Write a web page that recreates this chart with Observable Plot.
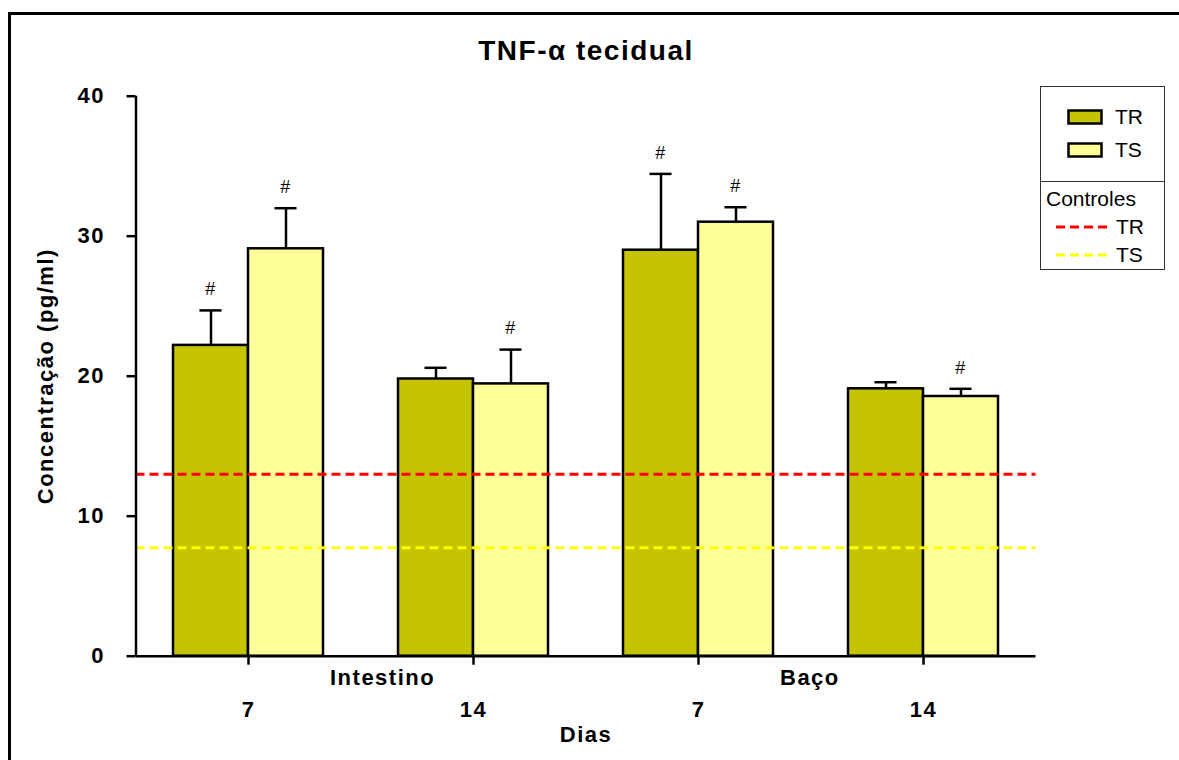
<!DOCTYPE html>
<html>
<head>
<meta charset="utf-8">
<script src="https://cdn.jsdelivr.net/npm/d3@7"></script>
<script src="https://cdn.jsdelivr.net/npm/@observablehq/plot@0.6"></script>
<style>
  body { margin: 0; width: 1179px; height: 760px; overflow: hidden; background: #fff;
         font-family: "Liberation Sans", Arial, sans-serif; position: relative; }
  #frame { position: absolute; left: 8px; top: 12px; width: 1300px; height: 900px;
           border: 3px solid #000; box-sizing: border-box; }
  #chart { position: absolute; left: 0; top: 0; }
  #legend { position: absolute; left: 1040px; top: 86px; width: 125px; height: 184px;
            border: 1.5px solid #333; box-sizing: border-box; font-size: 21px; color: #000; }
  #legend .row { position: absolute; display: flex; align-items: center; height: 26px; }
  #legend .sep { position: absolute; left: 0; right: 0; top: 94px; border-top: 1.5px solid #333; }
</style>
</head>
<body>
<div id="frame"></div>
<div id="chart"></div>
<div id="legend"></div>
<script>
// Tissue groups and days after infection
const tissues = ["Intestino", "Intestino", "Baço", "Baço"];
const days = ["7", "14", "7", "14"];

// Mean tissue TNF-α (pg/ml) and upper error (SEM) per group
const trMean = [22.2, 19.8, 29.0, 19.1];
const trErr  = [2.5, 0.8, 5.45, 0.47];
const tsMean = [29.1, 19.45, 31.0, 18.55];
const tsErr  = [2.9, 2.45, 1.07, 0.55];

// Significance marks (#) per bar
const trSig = [true, false, true, false];
const tsSig = [true, true, true, true];

// Control levels (dashed lines)
const controlLabels = ["TR", "TS"];
const controlValues = [13.0, 7.75];

const seriesNames = ["TR", "TS"];
const fills = {TR: "#c4c400", TS: "#ffff99"};
const controlColors = {TR: "#ff0000", TS: "#ffff00"};

const bars = [];
tissues.forEach((t, g) => {
  bars.push({g, series: "TR", mean: trMean[g], err: trErr[g], sig: trSig[g]});
  bars.push({g, series: "TS", mean: tsMean[g], err: tsErr[g], sig: tsSig[g]});
});
const controls = controlLabels.map((s, i) => ({series: s, value: controlValues[i]}));

const barW = 1 / 3;                    // bar width in group units
const barX1 = d => d.series === "TR" ? d.g - barW : d.g;
const barX2 = d => d.series === "TR" ? d.g : d.g + barW;
const barXc = d => (barX1(d) + barX2(d)) / 2;
const errTop = d => d.mean + d.err;
const capHalf = 0.049;

const groupLabels = [0, 2].map(g => ({g, name: tissues[g]}));

const chart = Plot.plot({
  width: 1179,
  height: 760,
  marginLeft: 135.5,
  marginRight: 143.5,
  marginTop: 95.7,
  marginBottom: 104.3,
  style: {fontFamily: '"Liberation Sans", Arial, sans-serif', fontSize: "22px",
          fontWeight: "bold", color: "#000", background: "transparent",
          overflow: "visible", letterSpacing: "1.5px"},
  x: {domain: [-0.5, 3.5], axis: null},
  y: {domain: [0, 40], axis: null},
  marks: [
    Plot.rectY(bars, {x1: barX1, x2: barX2, y1: 0, y2: "mean", fill: d => fills[d.series],
                      stroke: "#000", strokeWidth: 2.5}),
    Plot.ruleX(bars, {x: barXc, y1: "mean", y2: errTop, stroke: "#000", strokeWidth: 2.5}),
    Plot.ruleY(bars, {x1: d => barXc(d) - capHalf, x2: d => barXc(d) + capHalf, y: errTop,
                      stroke: "#000", strokeWidth: 2.5}),
    Plot.text(bars.filter(d => d.sig), {x: barXc, y: errTop, dy: -21, text: () => "#",
                      fontSize: 18, fontWeight: "normal"}),
    Plot.ruleY(controls, {y: "value", x1: -0.5, x2: 3.5, stroke: d => controlColors[d.series],
                          strokeWidth: 3, strokeDasharray: "9,5"}),
    // axes
    Plot.ruleX([-0.5], {y1: 0, y2: 40, stroke: "#000", strokeWidth: 2.5}),
    Plot.ruleY([0], {x1: -0.5, x2: 3.5, stroke: "#000", strokeWidth: 2.5}),
    Plot.axisY({ticks: [0, 10, 20, 30, 40], tickSize: 9, tickPadding: 22,
                strokeWidth: 2.5, label: null, fontSize: 22}),
    Plot.axisX({ticks: [0, 1, 2, 3], tickFormat: i => days[i], tickSize: 9,
                tickPadding: 36, strokeWidth: 2.5, label: null, fontSize: 22}),
    Plot.text(groupLabels, {x: d => d.g + 0.5, y: 0, dx: -31, dy: 22, text: "name",
                            textAnchor: "start", fontSize: 22}),
    Plot.text(["Dias"], {frameAnchor: "bottom", dy: 86, fontSize: 22}),
    Plot.text(["Concentração (pg/ml)"], {frameAnchor: "left", textAnchor: "middle",
                            dx: -90.5, rotate: -90, fontSize: 22}),
    Plot.text(["TNF-α tecidual"], {frameAnchor: "top", dy: -56, fontSize: 28})
  ]
});
document.getElementById("chart").append(chart);

// Legend: bar series, then controls
const legend = d3.select("#legend");
seriesNames.forEach((s, i) => {
  const row = legend.append("div").attr("class", "row")
    .style("left", "26px").style("top", `${17 + i * 33}px`);
  row.append("svg").attr("width", 36).attr("height", 16).style("margin-right", "12px")
    .append("rect").attr("x", 1.5).attr("y", 1.5).attr("width", 33).attr("height", 13)
    .attr("fill", fills[s]).attr("stroke", "#000").attr("stroke-width", 2.5);
  row.append("span").text(s);
});
legend.append("div").attr("class", "sep");
legend.append("div").attr("class", "row").style("left", "5px").style("top", "99px")
  .append("span").text("Controles");
controlLabels.forEach((s, i) => {
  const row = legend.append("div").attr("class", "row")
    .style("left", "15px").style("top", `${127 + i * 28}px`);
  row.append("svg").attr("width", 52).attr("height", 6).style("margin-right", "8px")
    .append("line").attr("x1", 0).attr("x2", 52).attr("y1", 3).attr("y2", 3)
    .attr("stroke", controlColors[s]).attr("stroke-width", 3).attr("stroke-dasharray", "9,5");
  row.append("span").text(s);
});
</script>
</body>
</html>
